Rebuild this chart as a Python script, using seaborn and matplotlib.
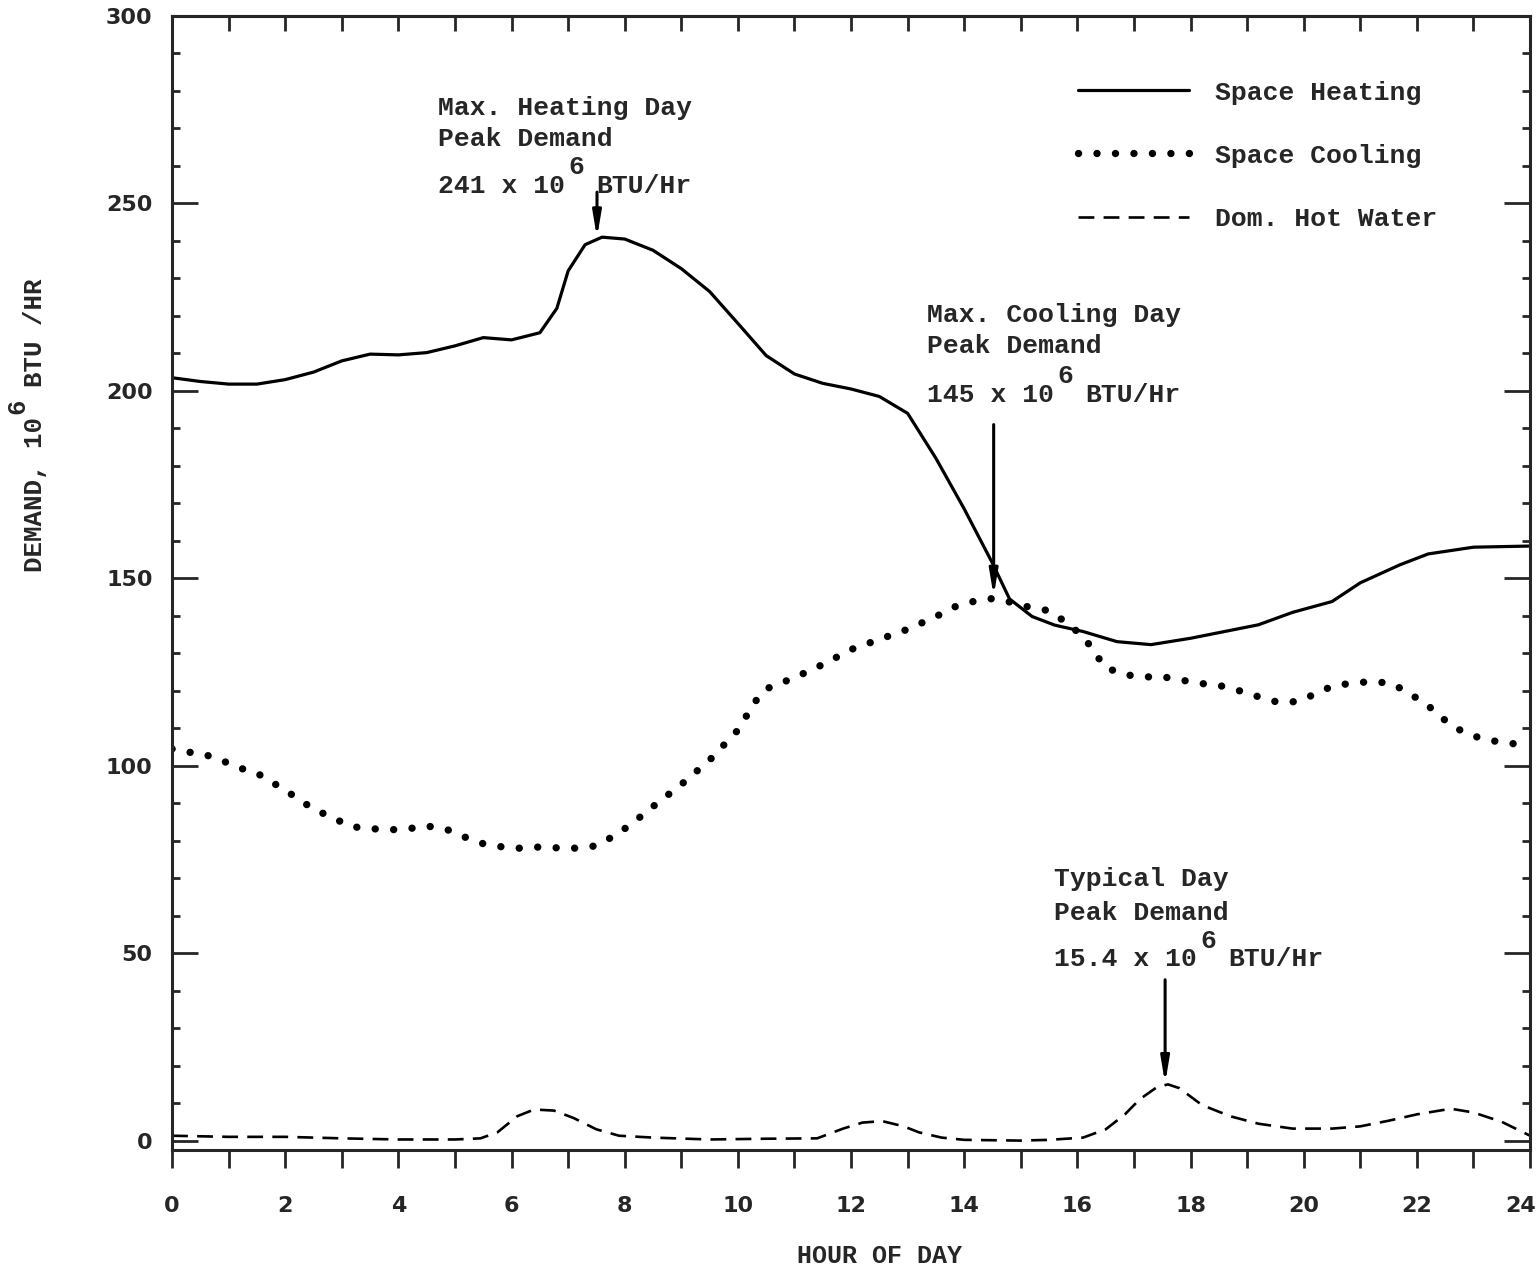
import matplotlib
matplotlib.use("Agg")
import matplotlib.pyplot as plt
import matplotlib.transforms as mtransforms
import pandas as pd
import seaborn as sns
from matplotlib.ticker import MultipleLocator

# hourly demand curves, 10^6 BTU/Hr
heat_hours = [0, 0.5, 1, 1.5, 2, 2.5, 3, 3.5, 4, 4.5, 5, 5.5, 6, 6.5, 6.8, 7.0,
              7.3, 7.6, 8.0, 8.5, 9.0, 9.5, 10, 10.5, 11, 11.5, 12, 12.5, 13,
              13.5, 14, 14.5, 14.8, 15.2, 15.6, 16.1, 16.7, 17.3, 18, 19.2,
              19.8, 20.5, 21, 21.7, 22.2, 23, 24]
heat_vals = [203.5, 202.5, 201.8, 201.8, 203, 205, 208, 209.8, 209.6, 210.2,
             212, 214.2, 213.6, 215.5, 222, 232, 239, 241, 240.5, 237.5, 232.6,
             226.5, 218, 209.4, 204.5, 202, 200.5, 198.5, 194, 182, 168.5, 154,
             144.5, 139.8, 137.5, 135.8, 133.1, 132.3, 134, 137.6, 140.9, 143.8,
             148.8, 153.6, 156.5, 158.3, 158.6]

cool_hours = [0, 0.17, 0.5, 0.88, 1.19, 1.48, 1.81, 2.19, 2.5, 2.82, 3.15, 3.44,
              3.82, 4.16, 4.47, 4.84, 5.15, 5.47, 5.89, 6.15, 6.47, 6.8, 7.15,
              7.48, 7.83, 8.14, 8.44, 9, 9.5, 10, 10.3, 10.5, 11, 11.5, 12, 12.5,
              13, 13.5, 13.85, 14.16, 14.5, 14.86, 15.17, 15.48, 15.81, 16.11,
              16.31, 16.48, 16.83, 17.16, 17.52, 17.89, 18.15, 18.51, 18.84,
              19.18, 19.55, 19.87, 20.22, 20.51, 20.85, 21.22, 21.56, 21.83,
              22.16, 22.5, 22.75, 23.09, 23.31, 23.65, 24]
cool_vals = [104.5, 103.7, 103.4, 101.4, 99.4, 98.2, 95.2, 91.6, 88.4, 86.3,
             83.8, 83.3, 82.9, 83.1, 84, 83.1, 81.1, 79.3, 78.2, 78, 78.3, 78.1,
             78, 78.6, 81.4, 84.7, 88.4, 95, 101.5, 109.5, 117, 120.5, 123.5,
             127, 131, 133.7, 136.4, 139.8, 142.5, 143.8, 144.6, 143.5, 142.2,
             141.4, 138.2, 134.3, 130.2, 126.3, 124.3, 123.7, 123.7, 122.7, 122,
             121.4, 120.1, 118.5, 116.9, 117.1, 119.2, 121.3, 122, 122.5, 121.9,
             119.6, 116.5, 112.1, 109.6, 107.5, 106.7, 106, 105.2]

dhw_hours = [0, 1, 2, 3, 4, 5, 5.45, 5.75, 6.1, 6.4, 6.75, 7.1, 7.5, 7.9, 8.5,
             9.5, 10.5, 11.4, 11.86, 12.2, 12.55, 12.93, 13.2, 13.6, 14, 15,
             15.5, 16.1, 16.5, 16.84, 17.1, 17.4, 17.6, 17.8, 18.2, 18.7, 19.2,
             19.8, 20.5, 21, 21.5, 22, 22.6, 23, 23.5, 24]
dhw_vals = [1.3, 1.0, 1.0, 0.6, 0.3, 0.3, 0.6, 2.2, 6.5, 8.3, 8.0, 6.0, 3.0, 1.3,
            0.8, 0.3, 0.5, 0.6, 3.2, 4.8, 5.2, 3.8, 2.2, 0.8, 0.2, 0.0, 0.2, 0.8,
            3.0, 7.0, 11.0, 14.2, 15.0, 14.0, 9.5, 6.5, 4.5, 3.2, 3.2, 3.8, 5.3,
            7.0, 8.5, 7.5, 5.0, 1.3]

series_names = ["Space Heating", "Space Cooling", "Dom. Hot Water"]
x_tick_labels = [str(h) if h % 2 == 0 else "" for h in range(25)]
y_ticks = [0, 50, 100, 150, 200, 250, 300]

MONO = "Liberation Mono"
FS = 19
CHAR = 0.6 * FS  # advance of one typewriter character, points

sns.set_style("ticks")
plt.rcParams["font.family"] = [MONO, "DejaVu Sans"]
plt.rcParams["font.weight"] = "bold"
plt.rcParams["axes.labelweight"] = "bold"


def peak_note(ax, x, y_lines, lines, amount):
    # two typed lines, then "<amount> x 10^6 BTU/Hr" with the 6 typed half a line up
    for y, txt in zip(y_lines[:2], lines):
        ax.text(x, y, txt, fontsize=FS, ha="left", va="baseline")
    head = amount + " x 10"
    n = len(head)
    ax.text(x, y_lines[2], head, fontsize=FS, ha="left", va="baseline")
    ax.annotate("6", xy=(x, y_lines[2]), xytext=((n + 0.25) * CHAR, 13.5),
                textcoords="offset points", fontsize=FS, ha="left", va="baseline")
    ax.annotate("BTU/Hr", xy=(x, y_lines[2]), xytext=((n + 2) * CHAR, 0),
                textcoords="offset points", fontsize=FS, ha="left", va="baseline")


def arrow(ax, x, y_from, y_to):
    ax.annotate("", xy=(x, y_to), xytext=(x, y_from),
                arrowprops=dict(arrowstyle="-|>,head_length=1.5,head_width=0.25",
                                color="black", lw=2.2, shrinkA=0, shrinkB=0,
                                mutation_scale=10))


fig = plt.figure(figsize=(15.39, 12.69), dpi=100)
ax = fig.add_axes([0.1118, 0.0938, 0.8824, 0.8936])

heat = pd.DataFrame({"hour": heat_hours, "demand": heat_vals})
cool = pd.DataFrame({"hour": cool_hours, "demand": cool_vals})
dhw = pd.DataFrame({"hour": dhw_hours, "demand": dhw_vals})

sns.lineplot(data=heat, x="hour", y="demand", ax=ax, color="black", lw=2.3,
             sort=False, label=series_names[0])
sns.lineplot(data=cool, x="hour", y="demand", ax=ax, color="black", lw=5.3,
             sort=False, label=series_names[1])
sns.lineplot(data=dhw, x="hour", y="demand", ax=ax, color="black", lw=1.9,
             sort=False, label=series_names[2])

l_heat, l_cool, l_dhw = ax.lines[:3]
l_cool.set_linestyle((0, (0.01, 2.5)))
l_cool.set_dash_capstyle("round")
l_dhw.set_linestyle((0, (6, 3.5)))

ax.set_xlim(0, 24)
ax.set_ylim(-2.5, 300)

ax.set_xticks(range(25))
ax.set_xticklabels(x_tick_labels)
ax.set_yticks(y_ticks)
ax.set_yticklabels([str(v) for v in y_ticks])
ax.yaxis.set_minor_locator(MultipleLocator(10))

ax.tick_params(axis="x", direction="out", length=13, width=2, pad=20,
               top=False, labelsize=16, labelfontfamily="DejaVu Sans")
ax.tick_params(axis="y", which="major", direction="in", length=19, width=2,
               pad=14, left=True, right=True, labelsize=16,
               labelfontfamily="DejaVu Sans")
ax.tick_params(axis="y", which="minor", direction="in", length=6, width=2,
               left=True, right=True)

# the "24" sits tight against the right edge of the sheet
last = ax.get_xticklabels()[-1]
last.set_transform(last.get_transform() +
                   mtransforms.ScaledTranslation(-7 / 72, 0, fig.dpi_scale_trans))

top = ax.secondary_xaxis("top")
top.set_xticks(range(25))
top.tick_params(axis="x", direction="in", length=11, width=2, labeltop=False)
top.spines["top"].set_linewidth(2.2)

for side in ["left", "right", "top", "bottom"]:
    ax.spines[side].set_visible(True)
    ax.spines[side].set_linewidth(2.2)

ax.set_xlabel("HOUR OF DAY", fontsize=FS - 1)
ax.xaxis.label.set_ha("left")
ax.xaxis.label.set_va("baseline")
ax.xaxis.set_label_coords(0.4602, -0.0997)

# y label typed in three pieces: "DEMAND, 10", raised "6", "BTU /HR"
ylab_fs = FS - 0.5
ylab_char = 0.6 * ylab_fs / 72 * 100 / (ax.get_position().height * 1269)
ax.set_ylabel("DEMAND, 10", fontsize=ylab_fs)
ax.yaxis.label.set_ha("left")
ax.yaxis.label.set_va("baseline")
ax.yaxis.set_label_coords(-0.0957, 0.510)
ax.text(-0.1085, 0.510 + 10.25 * ylab_char, "6", transform=ax.transAxes,
        rotation=90, rotation_mode="anchor", ha="left", va="baseline",
        fontsize=ylab_fs, clip_on=False)
ax.text(-0.0957, 0.510 + 12 * ylab_char, "BTU /HR", transform=ax.transAxes,
        rotation=90, rotation_mode="anchor", ha="left", va="baseline",
        fontsize=ylab_fs, fontweight="bold", clip_on=False)

peak_note(ax, 4.70, [273.6, 265.3, 252.8],
          ["Max. Heating Day", "Peak Demand"], "241")
arrow(ax, 7.51, 253.0, 240.8)

peak_note(ax, 13.34, [218.5, 210.0, 197.1],
          ["Max. Cooling Day", "Peak Demand"], "145")
arrow(ax, 14.52, 191.0, 145.2)

peak_note(ax, 15.58, [67.8, 58.9, 46.5],
          ["Typical Day", "Peak Demand"], "15.4")
arrow(ax, 17.55, 42.9, 15.2)

ax.legend(handles=[l_heat, l_cool, l_dhw], labels=series_names,
          loc="upper left", bbox_to_anchor=(0.667, 0.943), frameon=False,
          borderpad=0, borderaxespad=0, handlelength=4.2, handletextpad=1.0,
          labelspacing=1.48, prop={"family": MONO, "weight": "bold", "size": FS})

fig.savefig("out.png", dpi=100)
